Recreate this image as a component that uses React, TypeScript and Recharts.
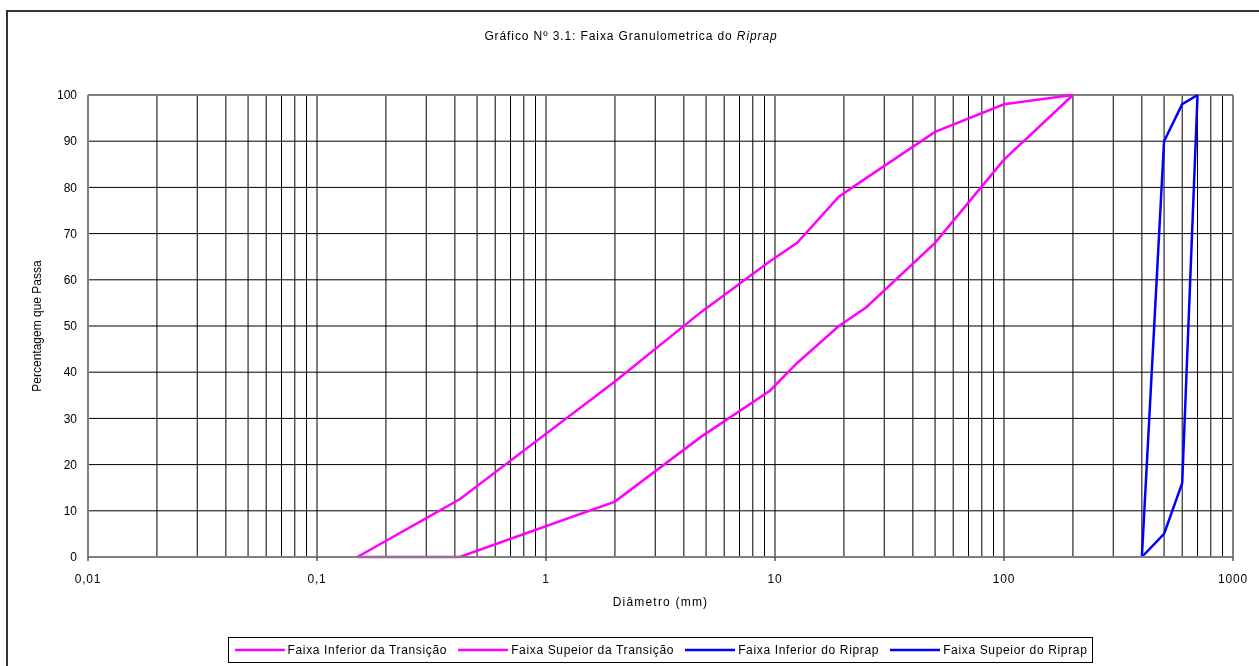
import React from 'react';
import { LineChart, Line, XAxis, YAxis, CartesianGrid, Legend, ReferenceLine } from 'recharts';

// ---- data ----
const transicaoInferior = [
  { d: 0.15, p: 0 },
  { d: 0.42, p: 12.5 },
  { d: 2, p: 38 },
  { d: 4.75, p: 53 },
  { d: 9.5, p: 64 },
  { d: 12.5, p: 68 },
  { d: 19, p: 78 },
  { d: 25, p: 82 },
  { d: 50, p: 92 },
  { d: 100, p: 98 },
  { d: 200, p: 100 },
];
const transicaoSupeior = [
  { d: 0.15, p: 0 },
  { d: 0.42, p: 0 },
  { d: 2, p: 12 },
  { d: 4.75, p: 26 },
  { d: 9.5, p: 36 },
  { d: 12.5, p: 42 },
  { d: 19, p: 50 },
  { d: 25, p: 54 },
  { d: 50, p: 68 },
  { d: 100, p: 86 },
  { d: 200, p: 100 },
];
const riprapInferior = [
  { d: 400, p: 0 },
  { d: 500, p: 5 },
  { d: 600, p: 16 },
  { d: 700, p: 100 },
];
const riprapSupeior = [
  { d: 400, p: 0 },
  { d: 500, p: 90 },
  { d: 600, p: 98 },
  { d: 700, p: 100 },
];

const seriesNames = [
  'Faixa Inferior da Transição',
  'Faixa Supeior da Transição',
  'Faixa Inferior do Riprap',
  'Faixa Supeior do Riprap',
];

const gridTicks = [
  0.01, 0.02, 0.03, 0.04, 0.05, 0.06, 0.07, 0.08, 0.09,
  0.1, 0.2, 0.3, 0.4, 0.5, 0.6, 0.7, 0.8, 0.9,
  1, 2, 3, 4, 5, 6, 7, 8, 9,
  10, 20, 30, 40, 50, 60, 70, 80, 90,
  100, 200, 300, 400, 500, 600, 700, 800, 900,
  1000,
];
const decadeTicks = [0.01, 0.1, 1, 10, 100, 1000];
const decadeLabels = ['0,01', '0,1', '1', '10', '100', '1000'];
const yTicks = [0, 10, 20, 30, 40, 50, 60, 70, 80, 90, 100];

const FONT = '"Liberation Sans", Arial, sans-serif';
const MAGENTA = '#FF00FF';
const BLUE = '#0000FF';

const XTick = (props: any) => {
  const { x, y, payload } = props;
  const idx = decadeTicks.findIndex((v) => Math.abs(v - payload.value) < v * 1e-6);
  if (idx < 0) return <g />;
  return (
    <g>
      <line x1={x} x2={x} y1={y} y2={y + 4} stroke="#000" strokeWidth={1} />
      <text x={x} y={y + 22} dy="0.35em" textAnchor="middle" fontSize={12} fontFamily={FONT} fill="#000" letterSpacing={0.8}>
        {decadeLabels[idx]}
      </text>
    </g>
  );
};

const LegendBox = (props: any) => {
  const payload = [...(props.payload || [])].sort(
    (a: any, b: any) => seriesNames.indexOf(a.value) - seriesNames.indexOf(b.value)
  );
  return (
    <div style={{ display: 'flex', justifyContent: 'center' }}>
      <div
        style={{
          display: 'flex',
          alignItems: 'center',
          height: 26,
          boxSizing: 'border-box',
          border: '1px solid #000',
          padding: '0 5px 0 6px',
          fontFamily: FONT,
          fontSize: 12,
          letterSpacing: 0.65,
          color: '#000',
          background: '#fff',
        }}
      >
        {payload.map((e: any, i: number) => (
          <div key={i} style={{ display: 'flex', alignItems: 'center', marginLeft: i === 0 ? 0 : 11 }}>
            <svg width={50} height={6} style={{ display: 'block' }}>
              <line x1={0} x2={50} y1={3} y2={3} stroke={e.color} strokeWidth={2.5} />
            </svg>
            <span style={{ marginLeft: 3, whiteSpace: 'nowrap' }}>{e.value}</span>
          </div>
        ))}
      </div>
    </div>
  );
};

const YLabel = (props: any) => {
  const { viewBox } = props;
  const x = viewBox.x + 3;
  const y = viewBox.y + viewBox.height / 2;
  return (
    <text x={x} y={y} transform={`rotate(-90, ${x}, ${y})`} textAnchor="middle" fontSize={12} fontFamily={FONT} fill="#000">
      Percentagem que Passa
    </text>
  );
};

const XLabel = (props: any) => {
  const { viewBox } = props;
  const x = viewBox.x + viewBox.width / 2;
  const y = viewBox.y + 45;
  return (
    <text x={x} y={y} dy="0.35em" textAnchor="middle" fontSize={12} fontFamily={FONT} fill="#000" letterSpacing={1.2}>
      Diâmetro (mm)
    </text>
  );
};

export default function App() {
  return (
    <div style={{ position: 'relative', width: 1251, height: 658, fontFamily: FONT }}>
      <div
        style={{
          position: 'fixed',
          left: 6,
          top: 10,
          width: 1400,
          height: 800,
          borderLeft: '2px solid #333',
          borderTop: '2px solid #333',
          pointerEvents: 'none',
        }}
      />
      <div
        style={{
          position: 'absolute',
          left: 0,
          top: 21,
          width: 1246,
          textAlign: 'center',
          fontSize: 12,
          lineHeight: '14px',
          letterSpacing: 0.9,
          color: '#000',
        }}
      >
        Gráfico Nº 3.1: Faixa Granulometrica do <i>Riprap</i>
      </div>
      <LineChart width={1251} height={658} margin={{ top: 87, right: 26, bottom: 3, left: 30 }}>
        <CartesianGrid stroke="#000" strokeWidth={1} />
        <XAxis
          dataKey="d"
          type="number"
          scale="log"
          domain={[0.01, 1000]}
          allowDataOverflow
          ticks={gridTicks}
          interval={0}
          tick={<XTick />}
          tickLine={false}
          tickSize={0}
          tickMargin={0}
          height={80}
          axisLine={{ stroke: '#808080', strokeWidth: 2 }}
          label={<XLabel />}
        />
        <YAxis
          type="number"
          domain={[0, 100]}
          ticks={yTicks}
          interval={0}
          width={50}
          tickLine={false}
          tickSize={0}
          tickMargin={11}
          tick={{ fontSize: 12, fontFamily: FONT, fill: '#000' }}
          axisLine={{ stroke: '#808080', strokeWidth: 2 }}
          label={<YLabel />}
        />
        <ReferenceLine y={100} stroke="#808080" strokeWidth={2} />
        <ReferenceLine x={1000} stroke="#808080" strokeWidth={2} />
        <Legend
          verticalAlign="bottom"
          content={<LegendBox />}
          wrapperStyle={{ left: 80, width: 1145 }}
        />
        <Line data={transicaoInferior} dataKey="p" name={seriesNames[0]} stroke={MAGENTA} strokeWidth={2.5} dot={false} isAnimationActive={false} type="linear" />
        <Line data={transicaoSupeior} dataKey="p" name={seriesNames[1]} stroke={MAGENTA} strokeWidth={2.5} dot={false} isAnimationActive={false} type="linear" />
        <Line data={riprapInferior} dataKey="p" name={seriesNames[2]} stroke={BLUE} strokeWidth={2.5} dot={false} isAnimationActive={false} type="linear" />
        <Line data={riprapSupeior} dataKey="p" name={seriesNames[3]} stroke={BLUE} strokeWidth={2.5} dot={false} isAnimationActive={false} type="linear" />
      </LineChart>
    </div>
  );
}
